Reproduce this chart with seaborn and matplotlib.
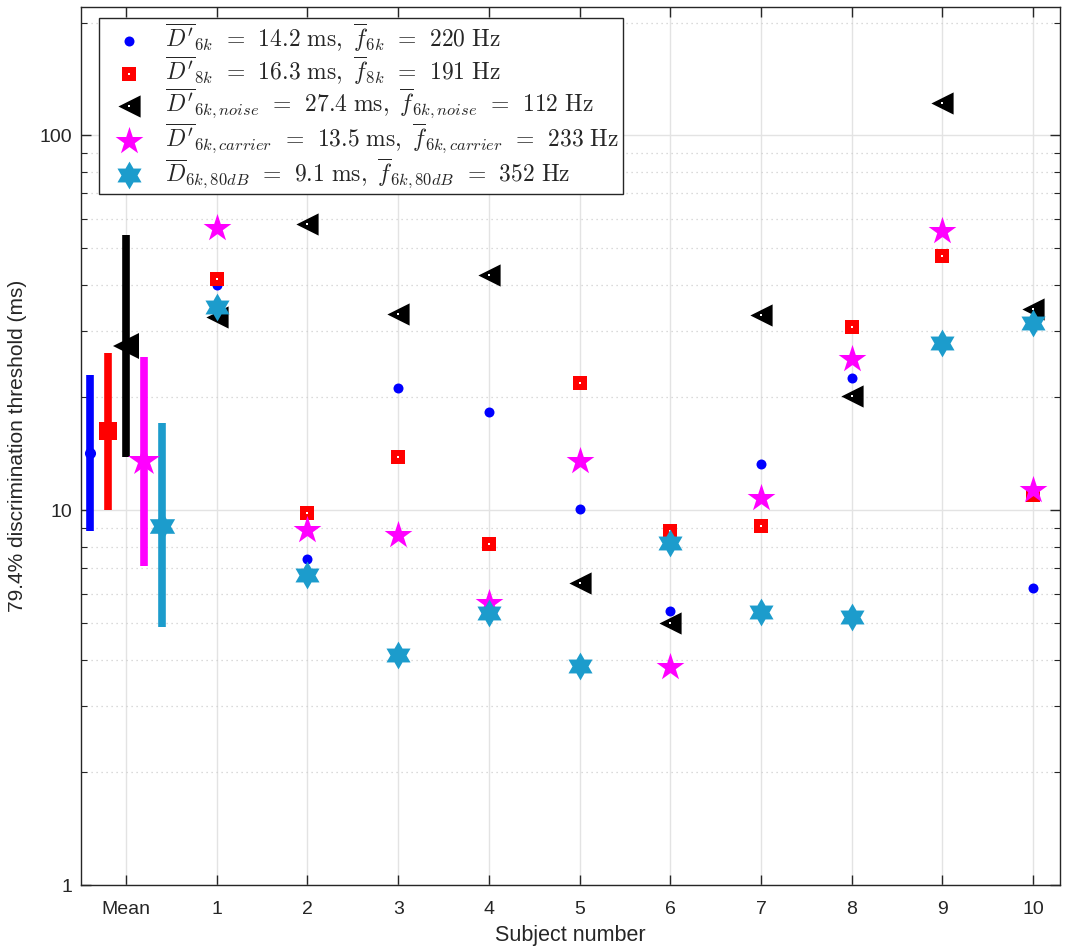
import numpy as np
import pandas as pd
import matplotlib
matplotlib.use("Agg")
import matplotlib.pyplot as plt
import seaborn as sns
from matplotlib.ticker import LogLocator, NullFormatter, FixedLocator, FixedFormatter
from matplotlib.legend_handler import HandlerTuple

# ---- data ----
subjects = [1, 2, 3, 4, 5, 6, 7, 8, 9, 10]
x_labels = ["Mean", "1", "2", "3", "4", "5", "6", "7", "8", "9", "10"]

d_6k = [40.0, 7.4, 21.2, 18.3, 10.1, 5.4, 13.3, 22.5, 28.5, 6.2]
d_8k = [41.3, 9.85, 13.9, 8.14, 21.8, 8.81, 9.11, 30.8, 47.8, 11.0]
d_6k_noise = [32.7, 58.2, 33.3, 42.5, 6.4, 5.02, 33.1, 20.2, 122.0, 34.5]
d_6k_carrier = [56.8, 8.87, 8.6, 5.66, 13.5, 3.83, 10.8, 25.3, 55.6, 11.3]
d_6k_80db = [34.9, 6.73, 4.11, 5.32, 3.84, 8.17, 5.36, 5.21, 27.9, 31.6]

mean_vals = [14.2, 16.3, 27.4, 13.5, 9.1]
mean_low = [8.8, 10.0, 13.9, 7.1, 4.9]
mean_high = [23.0, 26.3, 54.4, 25.7, 17.1]

eq = r"\;\,=\;\,"
labels = [
    r"$\overline{D'}_{6k}" + eq + r"14.2\ \mathrm{ms},\ \overline{f}_{6k}" + eq + r"220\ \mathrm{Hz}$",
    r"$\overline{D'}_{8k}" + eq + r"16.3\ \mathrm{ms},\ \overline{f}_{8k}" + eq + r"191\ \mathrm{Hz}$",
    r"$\overline{D'}_{6k,noise}" + eq + r"27.4\ \mathrm{ms},\ \overline{f}_{6k,noise}" + eq + r"112\ \mathrm{Hz}$",
    r"$\overline{D'}_{6k,carrier}" + eq + r"13.5\ \mathrm{ms},\ \overline{f}_{6k,carrier}" + eq + r"233\ \mathrm{Hz}$",
    r"$\overline{D}_{6k,80dB}" + eq + r"9.1\ \mathrm{ms},\ \overline{f}_{6k,80dB}" + eq + r"352\ \mathrm{Hz}$",
]

# ---- styling ----
sns.set_theme(style="ticks")
plt.rcParams["font.family"] = ["Liberation Sans", "DejaVu Sans"]
plt.rcParams["mathtext.fontset"] = "cm"

cyan = (0.11, 0.61, 0.80)
colors = ["#0000ff", "#ff0000", "#000000", "#ff00ff", cyan]

# six-pointed star (MATLAB 'hexagram')
ang = np.deg2rad(90 + 30 * np.arange(12))
rad = np.where(np.arange(12) % 2 == 0, 1.0, 1 / np.sqrt(3))
hexagram = list(zip(rad * np.cos(ang), rad * np.sin(ang)))

markers = ["o", "s", "<", "*", hexagram]
pt_sizes = [7.2, 10, 16, 21, 20]        # markersize (pt) for subject points
mean_sizes = [8, 12.5, 19, 24, 21]      # markersize for the mean markers
has_dot = [False, True, True, False, False]
offsets = [-0.4, -0.2, 0.0, 0.2, 0.4]

series = [d_6k, d_8k, d_6k_noise, d_6k_carrier, d_6k_80db]

fig = plt.figure(figsize=(10.68, 9.5), dpi=100)
ax = fig.add_axes([0.0756, 0.0681, 0.9172, 0.9245])

# mean +/- spread bars
for i in range(5):
    ax.errorbar(offsets[i], mean_vals[i],
                yerr=[[mean_vals[i] - mean_low[i]], [mean_high[i] - mean_vals[i]]],
                fmt="none", ecolor=colors[i], elinewidth=5.5, capsize=0, zorder=3)
    ax.plot(offsets[i], mean_vals[i], marker=markers[i], ms=mean_sizes[i],
            color=colors[i], mec=colors[i], mew=0, ls="none", zorder=4)

handles = []
for i, vals in enumerate(series):
    df = pd.DataFrame({"subject": subjects, "value": vals})
    sns.scatterplot(data=df, x="subject", y="value", ax=ax, marker=markers[i],
                    s=pt_sizes[i] ** 2, color=colors[i], edgecolor=colors[i],
                    linewidth=0, zorder=5 + i, legend=False)
    h = ax.collections[-1]
    if has_dot[i]:
        sns.scatterplot(data=df, x="subject", y="value", ax=ax, marker="s",
                        s=2.0, color="white", linewidth=0, zorder=5 + i,
                        legend=False)
        h = (h, ax.collections[-1])
    handles.append(h)

ax.set_yscale("log")
ax.set_ylim(1, 220)
ax.set_xlim(-0.5, 10.3)

ax.xaxis.set_major_locator(FixedLocator(range(11)))
ax.xaxis.set_major_formatter(FixedFormatter(x_labels))
ax.yaxis.set_major_locator(FixedLocator([1, 10, 100]))
ax.yaxis.set_major_formatter(FixedFormatter(["1", "10", "100"]))
ax.yaxis.set_minor_locator(LogLocator(base=10, subs=np.arange(2, 10)))
ax.yaxis.set_minor_formatter(NullFormatter())

ax.grid(True, which="major", axis="both", color="#e3e3e3", lw=1.0, ls="-", zorder=0)
ax.grid(True, which="minor", axis="y", color="#cfcfcf", lw=0.9, ls=(0, (1, 3)), zorder=0)
ax.set_axisbelow(True)

for sp in ax.spines.values():
    sp.set_color("#262626")
    sp.set_linewidth(1.0)
    sp.set_visible(True)
ax.tick_params(which="major", direction="in", length=7, width=1.0, colors="#262626",
               labelsize=14, top=True, right=True, pad=11)
ax.tick_params(which="minor", direction="in", length=4, width=0.8, colors="#262626",
               top=False, right=True)
ax.tick_params(axis="y", pad=6)

ax.set_xlabel("Subject number", fontsize=15.5, color="#262626", labelpad=5)
ax.set_ylabel("79.4% discrimination threshold (ms)", fontsize=15, color="#262626", labelpad=9)

leg = ax.legend(handles, labels, loc="upper left", bbox_to_anchor=(0.0187, 0.9875),
                fontsize=17, frameon=True, fancybox=False, framealpha=1,
                edgecolor="#262626", borderpad=0.15, labelspacing=0.0,
                handletextpad=0.45, handlelength=2.2, borderaxespad=0,
                handler_map={tuple: HandlerTuple(ndivide=1, pad=0)})
leg.get_frame().set_linewidth(1.0)
leg.set_zorder(20)

fig.savefig("out.png", dpi=100)
